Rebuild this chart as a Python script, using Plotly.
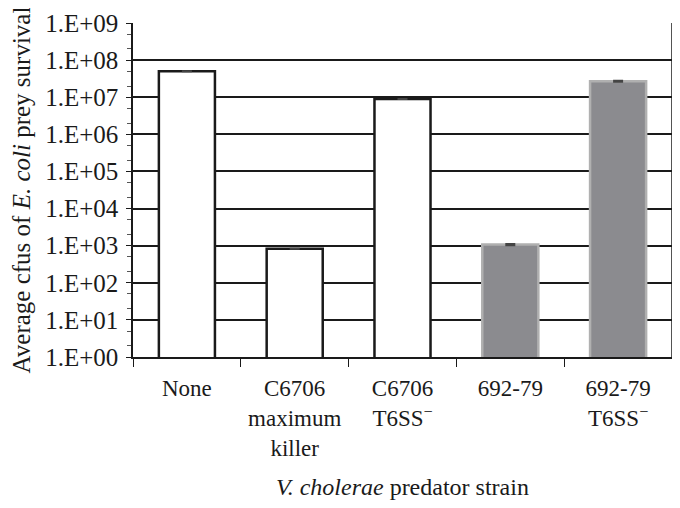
import plotly.graph_objects as go

strains = ["None", "C6706<br>maximum<br>killer", "C6706<br>T6SS<sup>−</sup>",
           "692-79", "692-79<br>T6SS<sup>−</sup>"]
survival = [5.0e7, 8.3e2, 8.9e6, 1.07e3, 2.7e7]
errors = [0, 0, 0, 0.04e3, 0.08e7]
fills = ["white", "white", "white", "#8b8b8f", "#8b8b8f"]
edges = ["#1a1a1a", "#1a1a1a", "#1a1a1a", "#b0b0b0", "#b0b0b0"]
edge_w = 2.5

ytickvals = [10 ** k for k in range(10)]
yticktext = ["1.E+%02d" % k for k in range(10)]

fig = go.Figure()
fig.add_trace(go.Bar(
    x=strains, y=survival,
    marker=dict(color=fills, line=dict(color=edges, width=edge_w)),
    error_y=dict(type="data", array=errors, visible=True, color="#444", thickness=2, width=5),
    width=0.52,
))

font = "Liberation Serif, Times New Roman, serif"
fig.update_layout(
    width=664, height=492,
    margin=dict(l=125, r=0, t=15, b=143),
    plot_bgcolor="white", paper_bgcolor="white",
    font=dict(family=font, size=23, color="#1a1a1a"),
    showlegend=False,
)
fig.update_yaxes(
    type="log", range=[0, 9],
    tickvals=ytickvals, ticktext=yticktext,
    showgrid=True, gridcolor="#1a1a1a", gridwidth=1.5,
    showline=True, linecolor="#1a1a1a", linewidth=1.5,
    ticks="outside", ticklen=5, tickcolor="#1a1a1a",
    minor=dict(ticks="outside", ticklen=4, tickcolor="#555", showgrid=False),
    tickfont=dict(size=25), ticklabelstandoff=3,
    title=dict(text="Average cfus of <i>E. coli</i> prey survival", standoff=12,
               font=dict(size=25)),
    zeroline=False, mirror=False,
)
fig.update_xaxes(
    showline=True, linecolor="#1a1a1a", linewidth=1.5, mirror=False,
    ticks="outside", ticklen=8, tickcolor="#1a1a1a", tickson="boundaries",
    ticklabelstandoff=10,
    title=dict(text="<i>V. cholerae</i> predator strain", standoff=20,
               font=dict(size=24)),
    tickfont=dict(size=23),
)
# right frame line
fig.add_shape(type="line", xref="paper", yref="paper", x0=1, x1=1, y0=0, y1=1,
              line=dict(color="#1a1a1a", width=1.5))

fig.write_html("out.html")
